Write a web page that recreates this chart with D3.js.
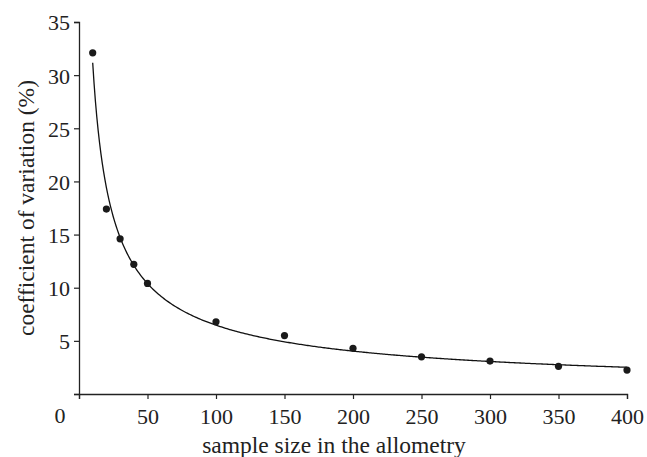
<!DOCTYPE html>
<html>
<head>
<meta charset="utf-8">
<script src="https://cdn.jsdelivr.net/npm/d3@7"></script>
<style>
  body { margin: 0; background: #fff; }
  text { font-family: "Liberation Serif", "Times New Roman", serif; fill: #222; }
</style>
</head>
<body>
<script>
// sample sizes and the measured coefficient of variation
const sampleSize = [10, 20, 30, 40, 50, 100, 150, 200, 250, 300, 350, 400];
const cv = [32.1, 17.4, 14.6, 12.2, 10.4, 6.8, 5.5, 4.3, 3.5, 3.1, 2.6, 2.25];
const xTicks = [0, 50, 100, 150, 200, 250, 300, 350, 400];
const yTicks = [0, 5, 10, 15, 20, 25, 30, 35];

const width = 647, height = 457;
const margin = {top: 22, right: 20, bottom: 63, left: 79};

const svg = d3.select("body").append("svg")
    .attr("width", width)
    .attr("height", height);

const x = d3.scaleLinear().domain([0, 400]).range([margin.left, width - margin.right]);
const y = d3.scaleLinear().domain([0, 35]).range([height - margin.bottom, margin.top]);

// axes
let xAxis = svg.append("g")
    .attr("transform", "translate(0," + y(0) + ")")
    .call(d3.axisBottom(x).tickValues(xTicks).tickSize(5).tickPadding(9)
        .tickFormat(d => d === 0 ? "" : d));

let yAxis = svg.append("g")
    .attr("transform", "translate(" + x(0) + ",0)")
    .call(d3.axisLeft(y).tickValues(yTicks).tickSize(5).tickPadding(4)
        .tickFormat(d => d === 0 ? "" : d));

[xAxis, yAxis].forEach(function(g) {
  g.select(".domain").attr("stroke", "#222").attr("stroke-width", 1.3);
  g.selectAll(".tick line").attr("stroke", "#222").attr("stroke-width", 1.2);
  g.selectAll(".tick text").style("font-size", "22px")
    .style("font-family", "Liberation Serif, serif").attr("fill", "#222");
});
yAxis.selectAll(".tick text").attr("dy", "0.36em");

// origin label sits left of the axis
svg.append("text")
    .attr("x", x(0) - 19)
    .attr("y", 423)
    .attr("text-anchor", "middle")
    .style("font-size", "22px")
    .text("0");

// power trendline fitted to the points (least squares on logs)
let lx = sampleSize.map(Math.log), ly = cv.map(Math.log);
let mx = d3.mean(lx), my = d3.mean(ly);
let b = d3.sum(lx, (v, i) => (v - mx) * (ly[i] - my)) / d3.sum(lx, v => (v - mx) * (v - mx));
let a = Math.exp(my - b * mx);
let fit = d3.range(10, 400.5, 1).map(s => [s, a * Math.pow(s, b)]);

svg.append("path")
    .datum(fit)
    .attr("fill", "none")
    .attr("stroke", "#111")
    .attr("stroke-width", 1.3)
    .attr("d", d3.line().x(d => x(d[0])).y(d => y(d[1])));

svg.selectAll("circle")
    .data(sampleSize)
    .enter()
    .append("circle")
    .attr("cx", d => x(d))
    .attr("cy", (d, i) => y(cv[i]))
    .attr("r", 3.6)
    .attr("fill", "#1a1a1a");

// axis titles
svg.append("text")
    .attr("x", 334)
    .attr("y", 453)
    .attr("text-anchor", "middle")
    .style("font-size", "23.5px")
    .text("sample size in the allometry");

svg.append("text")
    .attr("transform", "translate(34,208) rotate(-90)")
    .attr("text-anchor", "middle")
    .style("font-size", "23.5px")
    .text("coefficient of variation (%)");
</script>
</body>
</html>
